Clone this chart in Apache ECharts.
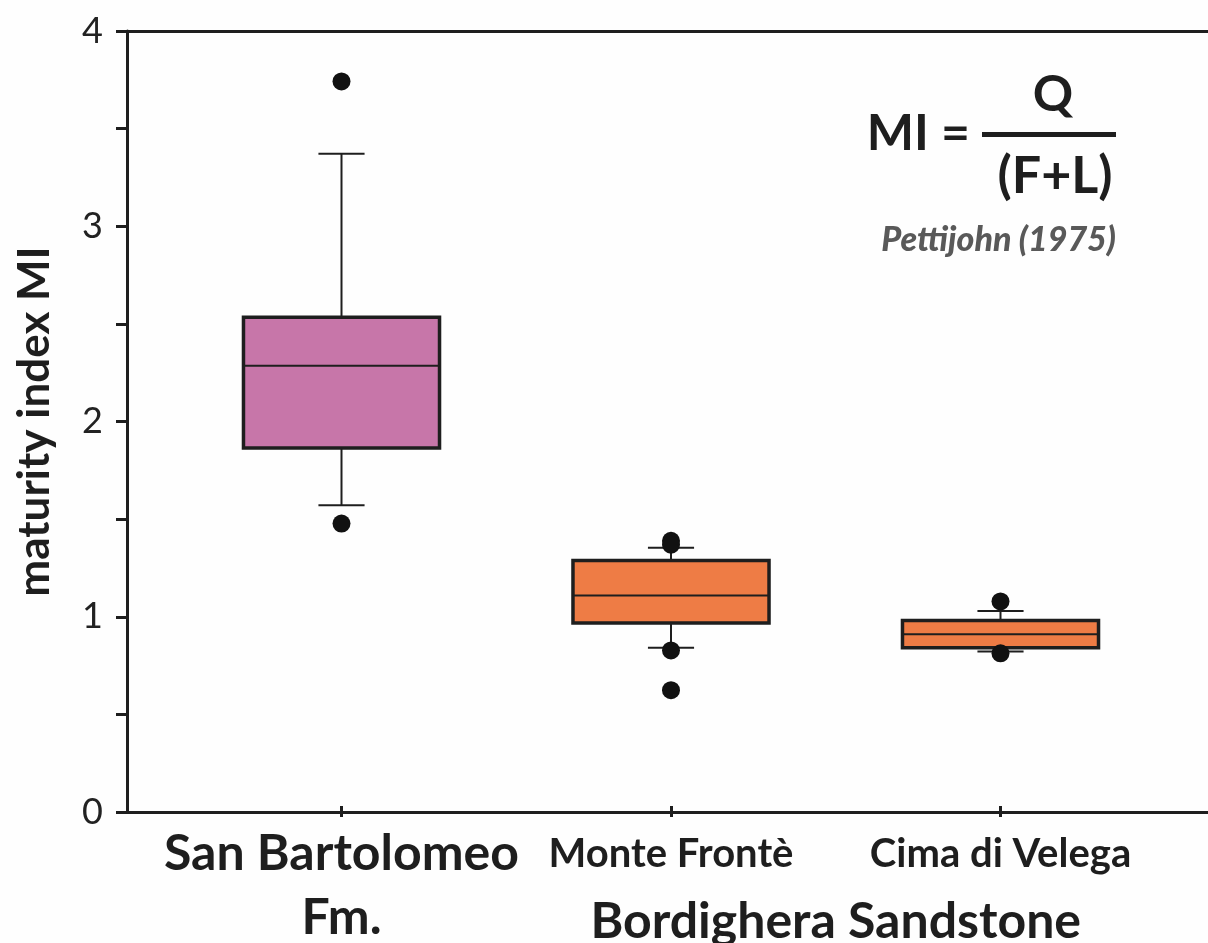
<!DOCTYPE html>
<html>
<head>
<meta charset="utf-8">
<title>Maturity index MI</title>
<script src="https://cdn.jsdelivr.net/npm/echarts@6/dist/echarts.min.js"></script>
<style>
  html, body { margin: 0; padding: 0; background: #fefefe; }
  #chart { width: 1208px; height: 943px; }
</style>
</head>
<body>
<div id="chart"></div>
<script>
// Sample groups (one box each)
const categories = ['San Bartolomeo\nFm.', 'Monte Frontè', 'Cima di Velega'];
const groupLabel = 'Bordighera Sandstone';

// Box statistics: [lower whisker, Q1, median, Q3, upper whisker]
const boxStats = [
  [1.552, 1.848, 2.272, 2.522, 3.366],
  [0.817, 0.945, 1.086, 1.267, 1.333],
  [0.798, 0.817, 0.887, 0.957, 1.007]
];

// Outliers per group
const outliers = [
  [3.740, 1.458],
  [1.369, 1.349, 0.803, 0.598],
  [1.056, 0.788]
];

const boxColors = ['#c776a9', '#ee7c45', '#ee7c45'];

// y-axis range and tick step (labels on integers only)
const yMin = 0, yMax = 4, yStep = 0.5;

const boxData = boxStats.map((s, i) => [i].concat(s));
const outlierData = [];
outliers.forEach((vals, i) => vals.forEach(v => outlierData.push([i, v])));

const ink = '#1e1e1e';
const fontFamily = 'Lato, "Open Sans", sans-serif';

function renderBox(params, api) {
  const x = api.value(0);
  const lo = api.coord([x, api.value(1)]);
  const q1 = api.coord([x, api.value(2)]);
  const md = api.coord([x, api.value(3)]);
  const q3 = api.coord([x, api.value(4)]);
  const hi = api.coord([x, api.value(5)]);
  const band = api.size([1, 0])[0];
  const halfBox = band * 0.595 / 2;
  const halfCap = band * 0.14 / 2;
  const cx = lo[0];
  const thin = { stroke: ink, lineWidth: 2, fill: null };
  return {
    type: 'group',
    children: [
      { type: 'line', shape: { x1: cx, y1: hi[1], x2: cx, y2: q3[1] }, style: thin },
      { type: 'line', shape: { x1: cx, y1: q1[1], x2: cx, y2: lo[1] }, style: thin },
      { type: 'line', shape: { x1: cx - halfCap, y1: hi[1], x2: cx + halfCap, y2: hi[1] }, style: thin },
      { type: 'line', shape: { x1: cx - halfCap, y1: lo[1], x2: cx + halfCap, y2: lo[1] }, style: thin },
      {
        type: 'rect',
        shape: { x: cx - halfBox, y: q3[1], width: halfBox * 2, height: q1[1] - q3[1] },
        style: { fill: boxColors[params.dataIndex], stroke: ink, lineWidth: 3.5 }
      },
      { type: 'line', shape: { x1: cx - halfBox, y1: md[1], x2: cx + halfBox, y2: md[1] }, style: thin }
    ]
  };
}

const chart = echarts.init(document.getElementById('chart'), null, { renderer: 'canvas' });

const axisLineStyle = { color: ink, width: 3 };

chart.setOption({
  backgroundColor: '#fefefe',
  animation: false,
  grid: [
    // frame: y axis, bottom and top lines
    { left: 127, right: -30, top: 31, bottom: 131 },
    // boxes
    { left: 176.75, width: 988.5, top: 31, bottom: 131 }
  ],
  xAxis: [
    {
      gridIndex: 0, type: 'value', position: 'bottom', min: 0, max: 1,
      axisLine: { show: true, lineStyle: axisLineStyle },
      axisTick: { show: false }, axisLabel: { show: false }, splitLine: { show: false }
    },
    {
      gridIndex: 0, type: 'value', position: 'top', min: 0, max: 1,
      axisLine: { show: true, lineStyle: axisLineStyle },
      axisTick: { show: false }, axisLabel: { show: false }, splitLine: { show: false }
    },
    {
      gridIndex: 1, type: 'category', data: categories, position: 'bottom',
      axisLine: { show: false },
      axisTick: { show: true, alignWithLabel: true, length: 11, lineStyle: axisLineStyle },
      axisLabel: {
        margin: 16,
        interval: 0,
        formatter: function (v, i) {
          if (i === 0) {
            return v.split('\n').map(s => '{big|' + s + '}').join('\n');
          }
          return '{small|' + v + '}';
        },
        rich: {
          big: { fontFamily: fontFamily, fontWeight: 'bold', fontSize: 50, lineHeight: 64, color: ink },
          small: { fontFamily: fontFamily, fontWeight: 'bold', fontSize: 40, lineHeight: 64, color: ink }
        }
      },
      splitLine: { show: false }
    }
  ],
  yAxis: [
    {
      gridIndex: 0, type: 'value', min: yMin, max: yMax, interval: yStep,
      name: 'maturity index MI', nameLocation: 'middle', nameGap: 70, nameRotate: 90,
      nameTextStyle: { fontFamily: fontFamily, fontWeight: 'bold', fontSize: 44, color: ink },
      axisLine: { show: true, lineStyle: axisLineStyle },
      axisTick: { show: true, length: 11, lineStyle: axisLineStyle },
      axisLabel: {
        margin: 24,
        fontFamily: fontFamily, fontSize: 36, color: '#222',
        formatter: v => (Number.isInteger(v) ? String(v) : '')
      },
      splitLine: { show: false }
    },
    {
      gridIndex: 1, type: 'value', min: yMin, max: yMax, interval: yStep,
      show: false
    }
  ],
  series: [
    {
      type: 'custom', name: 'MI',
      xAxisIndex: 2, yAxisIndex: 1,
      data: boxData,
      encode: { x: 0, y: [1, 2, 3, 4, 5] },
      renderItem: renderBox,
      z: 2
    },
    {
      type: 'scatter', name: 'outliers',
      xAxisIndex: 2, yAxisIndex: 1,
      data: outlierData,
      symbol: 'circle', symbolSize: 18,
      itemStyle: { color: '#111', opacity: 1 },
      z: 5
    }
  ]
});

// Group label centred between the two Bordighera sites, plus the formula annotation
const p1 = chart.convertToPixel({ xAxisIndex: 2 }, categories[1]);
const p2 = chart.convertToPixel({ xAxisIndex: 2 }, categories[2]);
const bold = (size) => 'bold ' + size + 'px ' + fontFamily;

chart.setOption({
  graphic: [
    {
      type: 'text', x: (p1 + p2) / 2, y: 922,
      style: { text: groupLabel, font: bold(50), fill: ink, textAlign: 'center', textVerticalAlign: 'middle' }
    },
    {
      type: 'text', x: 970, y: 134,
      style: { text: 'MI =', font: bold(50), fill: ink, textAlign: 'right', textVerticalAlign: 'middle' }
    },
    {
      type: 'text', x: 1053, y: 95,
      style: { text: 'Q', font: bold(50), fill: ink, textAlign: 'center', textVerticalAlign: 'middle' }
    },
    {
      type: 'line', shape: { x1: 982, y1: 134.5, x2: 1116, y2: 134.5 },
      style: { stroke: ink, lineWidth: 5 }
    },
    {
      type: 'text', x: 1055, y: 176,
      style: { text: '(F+L)', font: bold(52), fill: ink, textAlign: 'center', textVerticalAlign: 'middle' }
    },
    {
      type: 'text', x: 1116, y: 240,
      style: { text: 'Pettijohn (1975)', font: 'italic 900 34px ' + fontFamily, fill: '#595959', textAlign: 'right', textVerticalAlign: 'middle' }
    }
  ]
});
</script>
</body>
</html>
